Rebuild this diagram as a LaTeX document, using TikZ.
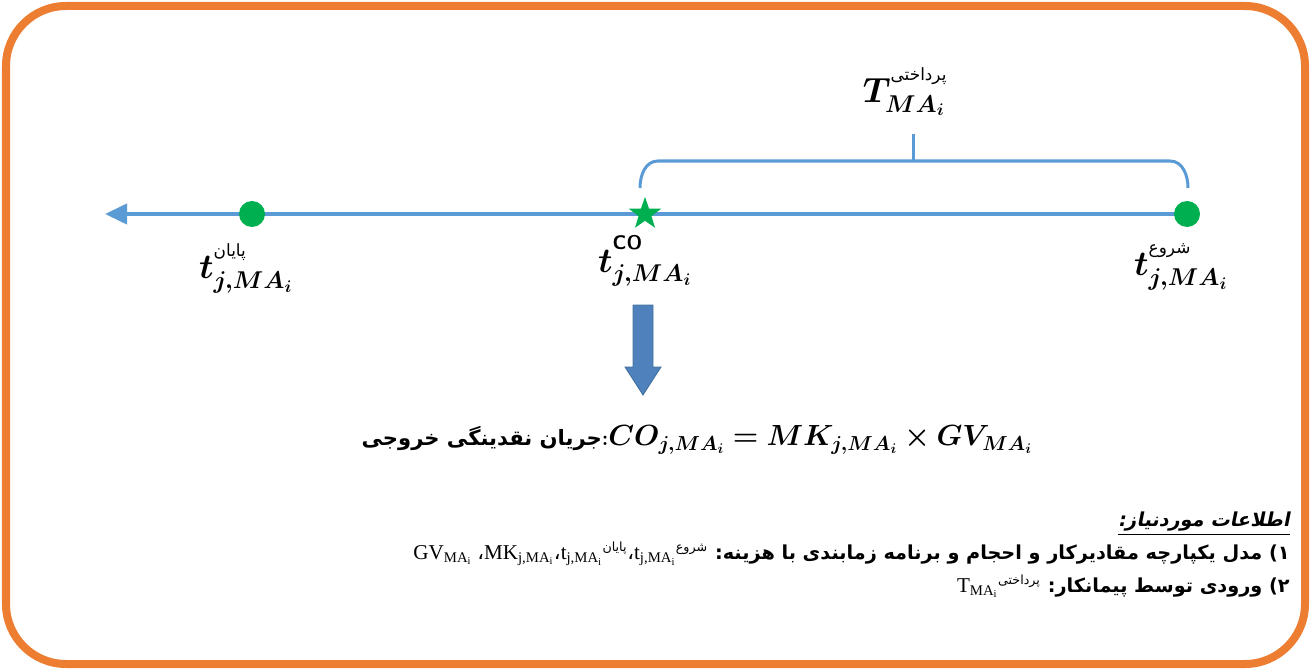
\documentclass[tikz,border=0pt]{standalone}
\usepackage{amsmath,amssymb}
\usepackage{bm}
\usepackage{fontspec}
\usetikzlibrary{arrows.meta,positioning,shapes.geometric}
\TeXXeTstate=1
\newfontfamily\arabicfont[Script=Arabic]{DejaVu Sans}
\newfontfamily\arabicslant[Script=Arabic,FakeSlant=0.2]{DejaVu Sans Bold}
\newfontfamily\timesfont{Liberation Serif}
\definecolor{frameorange}{HTML}{ED7D31}
\definecolor{lineblue}{HTML}{5B9BD5}
\definecolor{dotgreen}{HTML}{00B050}
\definecolor{flowblue}{HTML}{4F81BD}
\definecolor{flowedge}{HTML}{41719C}
\newcommand{\fatxt}[1]{{\arabicfont\beginR #1\endR}}
\newcommand{\facomma}{{\arabicfont\mdseries ،}}
\newcommand{\tlab}[1]{$\bm{t}^{\raisebox{7pt}{#1}}_{\bm{j,MA_i}}$}
\newcommand{\rmsub}[2]{$\text{#1}_{\text{#2}}$}
\newcommand{\rmt}[1]{${\text{t}_{\text{j,MA}_\text{i}}}^{\text{\fatxt{\fontsize{9}{10}\selectfont #1}}}$}

\begin{document}
\begin{tikzpicture}[x=0.025cm,y=-0.025cm,
  dot/.style={circle,fill=dotgreen,minimum size=0.65cm,inner sep=0pt},
  conode/.style={star,star points=5,star point ratio=2.5,fill=dotgreen,minimum size=0.85cm,inner sep=0pt},
  tlabel/.style={inner sep=0pt,font=\fontsize{24}{28}\selectfont},
  timeline/.style={lineblue,line width=0.1cm,-{Triangle[length=0.55cm,width=0.5cm]}},
  bracepath/.style={lineblue,line width=0.075cm},
  info/.style={anchor=east,inner sep=0pt,font=\bfseries\fontsize{13.7}{17}\selectfont}]
\useasboundingbox (0,0) rectangle (1311,670);
\draw[frameorange,line width=0.2cm,rounded corners=1.5cm] (6,6) rectangle (1305,664);
\coordinate (tip) at (105,214);
\coordinate (begin) at (1187,214);
\draw[timeline] (begin) -- (tip);
\node[dot] (start) at (begin) {};
\node[dot] (end) at (252,214) {};
\node[conode] (co) at (645,214) {};
\node[tlabel,below=0.4cm of start,xshift=-0.15cm] (startlab) {\tlab{\fatxt{\fontsize{12}{13}\selectfont شروع}}};
\node[tlabel,below=0.4cm of end,xshift=-0.15cm] (endlab) {\tlab{\fatxt{\fontsize{12}{13}\selectfont پایان}}};
\node[tlabel,below=0.35cm of co] (colab) {\tlab{\fontsize{14}{15}\selectfont\sffamily\bfseries CO}};
\draw[bracepath] (640,188) to[out=90,in=180] (658,161) -- (1170,161) to[out=0,in=90] (1188,188);
\coordinate (tick) at (913,134);
\draw[bracepath] (913,161) -- (tick);
\node[tlabel,above=0.45cm of tick,xshift=-0.2cm] (paylab) {$\bm{T}^{\raisebox{7pt}{\fatxt{\fontsize{12}{13}\selectfont پرداختی}}}_{\bm{MA_i}}$};
\filldraw[fill=flowblue,draw=flowedge,line width=0.6pt] (633,305) -- (653,305) -- (653,367) -- (661,367) -- (643,395) -- (625,367) -- (633,367) -- cycle;
\node[inner sep=0pt,font=\bfseries\fontsize{15}{22}\selectfont] (flowtext) at (697,440)
  {\fatxt{جریان نقدینگی خروجی}:{\fontsize{20}{24}\selectfont$\bm{CO_{j,MA_i}=MK_{j,MA_i}\times GV_{MA_i}}$}};
\node[info] (need) at (1290,522) {\arabicslant\beginR اطلاعات موردنیاز:\endR};
\draw[line width=0.6pt] ([yshift=-2pt]need.south west) -- ([yshift=-2pt]need.south east);
\node[info] (need1) at (1290,554) {{\mdseries\timesfont\fontsize{15}{18}\selectfont
  \rmsub{GV}{MA$_\text{i}$} \facomma\rmsub{MK}{j,MA$_\text{i}$}\facomma\rmt{پایان}\facomma\rmt{شروع}}
  \fatxt{۱) مدل یکپارچه مقادیرکار و احجام و برنامه زمابندی با هزینه:}};
\node[info] (need2) at (1290,586) {{\mdseries\timesfont\fontsize{15}{18}\selectfont
  ${\text{T}_{\text{MA}_\text{i}}}^{\text{\fatxt{\fontsize{9}{10}\selectfont پرداختی}}}$}
  \fatxt{۲) ورودی توسط پیمانکار:}};
\end{tikzpicture}
\end{document}
